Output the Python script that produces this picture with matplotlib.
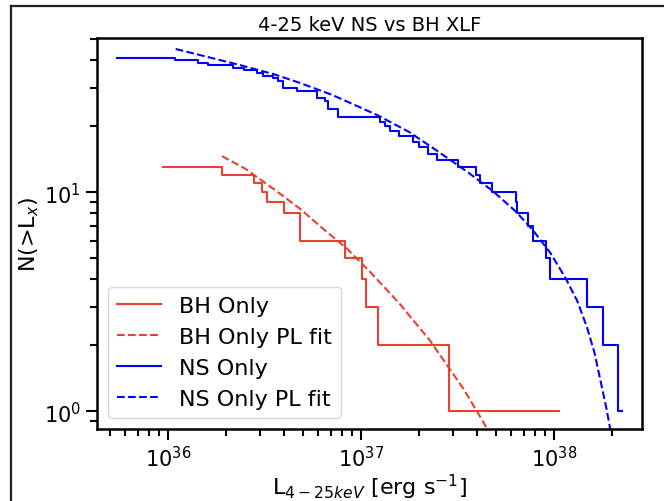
import numpy as np
import matplotlib.pyplot as plt
from matplotlib.lines import Line2D

# step edges (erg/s) and cumulative counts N(>L)
bh_lum = [9.4e35, 1.905e36, 2.79e36, 3.07e36, 3.26e36, 3.99e36, 4.83e36,
          8.26e36, 1.01e37, 1.06e37, 1.22e37, 2.86e37, 1.06e38]
bh_n = [13, 12, 11, 10, 9, 8, 6, 5, 4, 3, 2, 1, 1]

ns_lum = [5.45e35, 1.086e36, 1.429e36, 1.611e36, 2.173e36, 2.477e36, 2.891e36,
          3.105e36, 3.499e36, 3.715e36, 3.945e36, 4.656e36, 5.916e36, 6.501e36,
          6.745e36, 7.603e36, 1.253e37, 1.330e37, 1.413e37, 1.574e37, 1.858e37,
          2.000e37, 2.223e37, 2.477e37, 3.184e37, 3.945e37, 4.140e37, 4.775e37,
          6.353e37, 6.427e37, 7.328e37, 7.780e37, 9.099e37, 9.528e37, 1.483e38,
          1.795e38, 2.148e38, 2.249e38]
ns_n = [41, 40, 39, 38, 37, 36, 35, 34, 33, 32, 30, 29, 27, 26, 24, 22, 21, 20,
        19, 18, 17, 16, 15, 14, 13, 12, 11, 10, 9, 8, 7, 6, 5, 4, 3, 2, 1, 1]

# power-law fit curves (log10 L, N)
bh_fit_logl = [36.28, 36.40, 36.55, 36.684, 36.80, 36.93, 37.05, 37.20, 37.358,
               37.451, 37.53, 37.601, 37.658, 37.70]
bh_fit_n = [14.6, 12.8, 10.3, 8.4, 6.85, 5.5, 4.3, 3.1, 2.1, 1.6, 1.27, 1.0, 0.82, 0.69]
ns_fit_logl = [36.04, 36.2, 36.373, 36.55, 36.684, 36.85, 37.083, 37.25, 37.373,
               37.55, 37.684, 37.8, 37.891, 37.98, 38.057, 38.12, 38.171, 38.21,
               38.238, 38.27, 38.295, 38.315]
ns_fit_n = [45, 41.5, 38, 34.5, 31.5, 27.8, 22.5, 18.8, 15.9, 12.4, 10.1, 8.2,
            6.7, 5.3, 4.1, 3.2, 2.42, 1.85, 1.42, 1.05, 0.8, 0.6]

red = '#e8412f'
blue = 'blue'

fig = plt.figure(figsize=(6.64, 5.02), dpi=100)
ax = fig.add_axes([0.1461, 0.1434, 0.8208, 0.7789])

ax.step(bh_lum, bh_n, where='post', color=red, lw=1.5, label='BH Only')
ax.plot(10 ** np.array(bh_fit_logl), bh_fit_n, '--', color=red, lw=1.5, label='BH Only PL fit')
ax.step(ns_lum, ns_n, where='post', color=blue, lw=1.5, label='NS Only')
ax.plot(10 ** np.array(ns_fit_logl), ns_fit_n, '--', color=blue, lw=1.5, label='NS Only PL fit')

ax.set_xscale('log')
ax.set_yscale('log')
ax.set_xlim(4.29e35, 2.86e38)
ax.set_ylim(0.83, 50.5)

ax.set_title('4-25 keV NS vs BH XLF', fontsize=14, pad=6)
ax.set_xlabel(r'L$_{4-25keV}$ [erg s$^{-1}$]', fontsize=16, labelpad=1)
ax.set_ylabel(r'N(>L$_{x}$)', fontsize=16, labelpad=2)
ax.tick_params(which='major', labelsize=15, length=8, width=1.5)
ax.tick_params(which='minor', length=5, width=1.5)
for s in ax.spines.values():
    s.set_linewidth(1.8)

ax.legend(loc='lower left', fontsize=16)

# outer frame of the screenshot
fig.add_artist(Line2D([11 / 664, 1], [1 - 7 / 502, 1 - 7 / 502], color='#222222', lw=1.6))
fig.add_artist(Line2D([11 / 664, 11 / 664], [0, 1 - 7 / 502], color='#222222', lw=1.6))

fig.savefig('out.png', dpi=100)
